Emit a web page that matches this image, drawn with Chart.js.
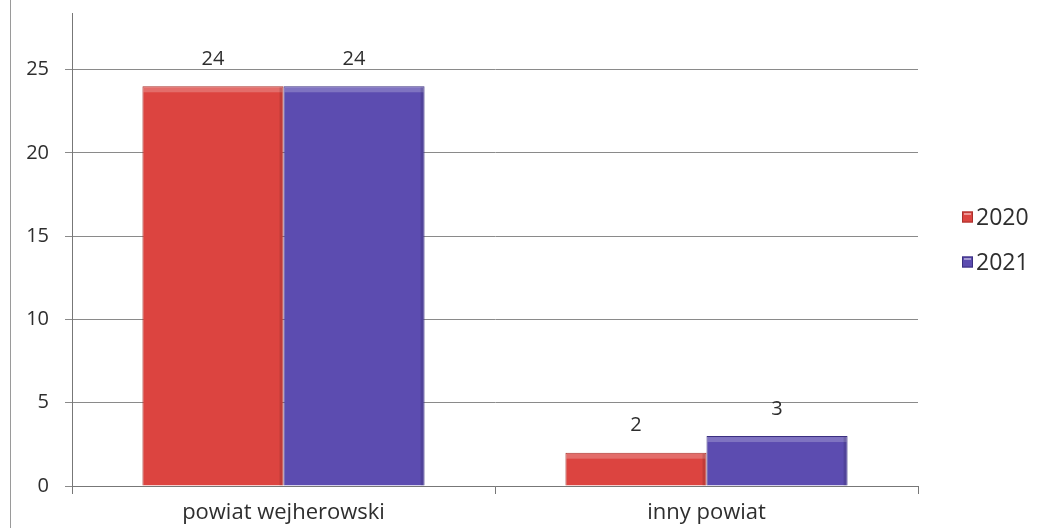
<!DOCTYPE html>
<html>
<head>
<meta charset="utf-8">
<script src="https://cdn.jsdelivr.net/npm/chart.js@4"></script>
<style>
  html, body { margin: 0; padding: 0; background: #fff; }
  #wrap { position: relative; width: 1046px; height: 528px; }
  #frame { position: absolute; left: 10px; top: 0; width: 0; height: 528px; border-left: 1px solid #9a9a9a; }
</style>
</head>
<body>
<div id="wrap">
  <div id="frame"></div>
  <canvas id="chart" width="1046" height="528"></canvas>
</div>
<script>
const categories = ["powiat wejherowski", "inny powiat"];
const seriesNames = ["2020", "2021"];
const values2020 = [24, 2];
const values2021 = [24, 3];
const yTicks = [0, 5, 10, 15, 20, 25];

const FONT = "'Open Sans', sans-serif";
const TEXT = "#2e2e2e";

// value labels above the bars + a light bevel on top of each bar
const valueLabels = {
    id: "valueLabels",
    afterDatasetsDraw(chart) {
        const { ctx } = chart;
        ctx.save();
        chart.data.datasets.forEach((ds, i) => {
            chart.getDatasetMeta(i).data.forEach(bar => {
                const left = bar.x - bar.width / 2;
                ctx.fillStyle = "rgba(255,255,255,0.22)";
                ctx.fillRect(left + 1, bar.y + 1, bar.width - 2, 5);
                ctx.fillStyle = "rgba(0,0,0,0.12)";
                ctx.fillRect(left + bar.width - 4, bar.y + 1, 3, bar.base - bar.y - 1);
            });
        });
        ctx.font = `20px ${FONT}`;
        ctx.fillStyle = TEXT;
        ctx.textAlign = "center";
        ctx.textBaseline = "middle";
        chart.data.datasets.forEach((ds, i) => {
            chart.getDatasetMeta(i).data.forEach((bar, j) => {
                ctx.fillText(ds.data[j], bar.x, bar.y - 27);
            });
        });
        ctx.restore();
    }
};

// legend to the right, tight box/text gap like the original
const sideLegend = {
    id: "sideLegend",
    afterDraw(chart) {
        const { ctx, chartArea } = chart;
        const step = 45;
        const n = chart.data.datasets.length;
        const y0 = (chartArea.top + chartArea.bottom) / 2 - 10 - step * (n - 1) / 2;
        const x = chartArea.right + 44;
        ctx.save();
        ctx.font = `23px ${FONT}`;
        ctx.textBaseline = "middle";
        chart.data.datasets.forEach((ds, i) => {
            const y = y0 + i * step;
            ctx.fillStyle = ds.backgroundColor;
            ctx.fillRect(x, y - 5.5, 11, 11);
            ctx.strokeStyle = ds.borderColor;
            ctx.lineWidth = 1;
            ctx.strokeRect(x + 0.5, y - 5, 10, 10);
            ctx.fillStyle = "rgba(255,255,255,0.45)";
            ctx.fillRect(x + 2, y - 4, 7, 2);
            ctx.fillStyle = TEXT;
            ctx.fillText(ds.label, x + 14, y + 1);
        });
        ctx.restore();
    }
};

new Chart(document.getElementById("chart"), {
    type: "bar",
    plugins: [valueLabels, sideLegend],
    data: {
        labels: categories,
        datasets: [
            {
                label: seriesNames[0], data: values2020,
                backgroundColor: "#dc4440", borderColor: "#a8302c", borderWidth: 1,
                categoryPercentage: 0.667, barPercentage: 1
            },
            {
                label: seriesNames[1], data: values2021,
                backgroundColor: "#5c4cb0", borderColor: "#3a2f80", borderWidth: 1,
                categoryPercentage: 0.667, barPercentage: 1
            }
        ]
    },
    options: {
        responsive: false,
        animation: false,
        layout: { padding: { left: 10, top: 13, right: 128, bottom: 0 } },
        plugins: {
            tooltip: { enabled: false },
            legend: { display: false }
        },
        scales: {
            x: {
                offset: true,
                grid: { offset: true, drawOnChartArea: false, drawTicks: true, tickLength: 8, color: "#777" },
                border: { color: "#777", width: 1 },
                ticks: { font: { family: FONT, size: 22 }, color: TEXT, padding: 6 },
                afterFit: s => { s.height = 42; s.paddingLeft = 0; s.paddingRight = 0; }
            },
            y: {
                min: 0, max: 28.4,
                grid: { color: "#8a8a8a", tickLength: 7 },
                border: { color: "#777", width: 1 },
                ticks: { stepSize: 5, font: { family: FONT, size: 20 }, color: TEXT, padding: 16 },
                afterBuildTicks: s => { s.ticks = yTicks.map(v => ({ value: v })); },
                afterFit: s => { s.width = 62; s.paddingTop = 0; s.paddingBottom = 0; }
            }
        }
    }
});
</script>
</body>
</html>
